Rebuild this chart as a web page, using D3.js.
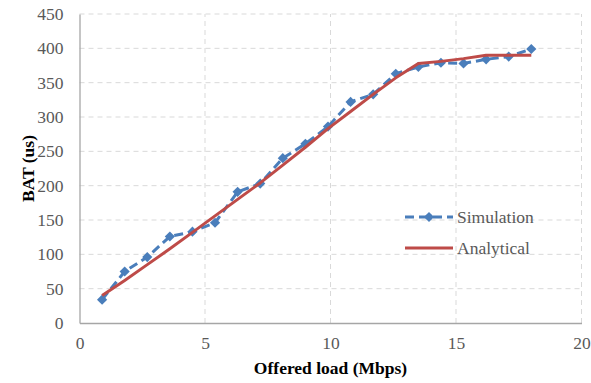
<!DOCTYPE html>
<html>
<head>
<meta charset="utf-8">
<script src="https://cdn.jsdelivr.net/npm/d3@7"></script>
<style>
  body { margin: 0; background: #fff; }
</style>
</head>
<body>
<div id="chart"></div>
<script>
const loads = [0.9, 1.8, 2.7, 3.6, 4.5, 5.4, 6.3, 7.2, 8.1, 9.0, 9.9, 10.8, 11.7, 12.6, 13.5, 14.4, 15.3, 16.2, 17.1, 18.0];
const simulation = [34, 75, 96, 126, 133, 146, 191, 203, 240, 261, 286, 322, 333, 363, 373, 379, 378, 384, 388, 399];
const analytical = [40, 62, 85, 108, 132, 156, 180, 204, 230, 256, 283, 308, 333, 357, 378, 381, 385, 390, 390, 390];
const xTicks = [0, 5, 10, 15, 20];
const yTicks = [0, 50, 100, 150, 200, 250, 300, 350, 400, 450];
const seriesNames = ["Simulation", "Analytical"];

const width = 591, height = 383;
const margin = { left: 79.5, right: 9.5, top: 14, bottom: 60 };
const font = "Liberation Serif";

const svg = d3.select("#chart").append("svg")
    .attr("width", width)
    .attr("height", height)
    .attr("font-family", font)
    .style("display", "block");

const x = d3.scaleLinear().domain([0, 20]).range([margin.left, width - margin.right]);
const y = d3.scaleLinear().domain([0, 450]).range([height - margin.bottom, margin.top]);

// gridlines
svg.append("g")
    .selectAll("line")
    .data(yTicks.filter(d => d > 0))
    .join("line")
    .attr("x1", x(0)).attr("x2", x(20))
    .attr("y1", d => y(d)).attr("y2", d => y(d))
    .attr("stroke", "#d9d9d9")
    .attr("stroke-width", 1)
    .attr("stroke-dasharray", "5,4");

svg.append("g")
    .selectAll("line")
    .data(xTicks.filter(d => d > 0))
    .join("line")
    .attr("x1", d => x(d)).attr("x2", d => x(d))
    .attr("y1", y(0)).attr("y2", y(450))
    .attr("stroke", "#d9d9d9")
    .attr("stroke-width", 1)
    .attr("stroke-dasharray", "5,4");

// axes
const xAxis = svg.append("g")
    .attr("transform", `translate(0,${y(0)})`)
    .call(d3.axisBottom(x).tickValues(xTicks).tickSize(0).tickPadding(14));
const yAxis = svg.append("g")
    .attr("transform", `translate(${x(0)},0)`)
    .call(d3.axisLeft(y).tickValues(yTicks).tickSize(0).tickPadding(16));

[xAxis, yAxis].forEach(a => {
    a.attr("font-family", font).attr("font-size", 17.5);
    a.select(".domain").attr("stroke", "#a6a6a6").attr("stroke-width", 1.3);
    a.selectAll("text").attr("fill", "#595959");
});

// axis titles
svg.append("text")
    .attr("x", x(10))
    .attr("y", 374)
    .attr("text-anchor", "middle")
    .attr("font-size", 17.5)
    .attr("font-weight", "bold")
    .text("Offered load (Mbps)");

svg.append("text")
    .attr("transform", `translate(34,${y(225)}) rotate(-90)`)
    .attr("text-anchor", "middle")
    .attr("font-size", 17.5)
    .attr("font-weight", "bold")
    .text("BAT (us)");

const simColor = "#4a7ebb";
const anaColor = "#be4b48";

const line = d3.line()
    .x((d, i) => x(loads[i]))
    .y(d => y(d));

// simulation
svg.append("path")
    .datum(simulation)
    .attr("fill", "none")
    .attr("stroke", simColor)
    .attr("stroke-width", 3)
    .attr("stroke-dasharray", "9,5")
    .attr("d", line);

// diamond = square turned 45 degrees, like the spreadsheet marker
const diamond = d3.symbol().type(d3.symbolSquare).size(52);
svg.append("g")
    .selectAll("path")
    .data(simulation)
    .join("path")
    .attr("transform", (d, i) => `translate(${x(loads[i])},${y(d)}) rotate(45)`)
    .attr("d", diamond)
    .attr("fill", simColor);

// analytical
svg.append("path")
    .datum(analytical)
    .attr("fill", "none")
    .attr("stroke", anaColor)
    .attr("stroke-width", 3)
    .attr("stroke-linejoin", "round")
    .attr("d", line);

// legend
const legend = svg.append("g").attr("transform", "translate(405,217)");
legend.append("line")
    .attr("x1", 0).attr("x2", 48).attr("y1", 0).attr("y2", 0)
    .attr("stroke", simColor).attr("stroke-width", 3)
    .attr("stroke-dasharray", "9,5");
legend.append("path")
    .attr("transform", "translate(24,0) rotate(45)")
    .attr("d", diamond)
    .attr("fill", simColor);
legend.append("line")
    .attr("x1", 0).attr("x2", 48).attr("y1", 31).attr("y2", 31)
    .attr("stroke", anaColor).attr("stroke-width", 3);
legend.selectAll("text")
    .data(seriesNames)
    .join("text")
    .attr("x", 52)
    .attr("y", (d, i) => i * 31 + 6)
    .attr("fill", "#595959")
    .attr("font-size", 17.5)
    .text(d => d);
</script>
</body>
</html>
